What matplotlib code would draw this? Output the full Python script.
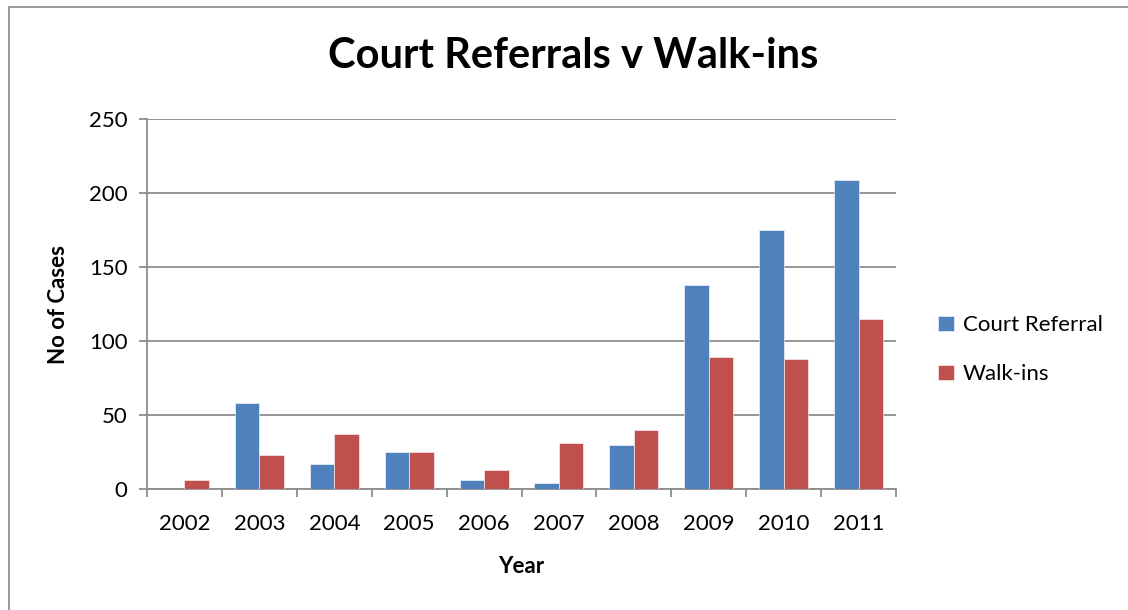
import numpy as np
import matplotlib.pyplot as plt
from matplotlib.patches import Rectangle

years = ['2002', '2003', '2004', '2005', '2006', '2007', '2008', '2009', '2010', '2011']
court_referral = [0, 58, 17, 25, 6, 4, 30, 138, 175, 209]
walk_ins = [6, 23, 37, 25, 13, 31, 40, 89, 88, 115]

plt.rcParams['font.family'] = ['Lato', 'DejaVu Sans']

fig = plt.figure(figsize=(11.28, 6.1), dpi=100)
fig.patches.append(Rectangle((9 / 1128, -0.01), 1.0, 1 - 7 / 610 + 0.01,
                             transform=fig.transFigure, fill=False,
                             edgecolor='#888888', linewidth=1.2))

ax = fig.add_axes([147 / 1128, 121 / 610, 749 / 1128, 370 / 610])

x = np.arange(len(years))
w = 0.327
ax.bar(x - w / 2, court_referral, w, color='#4f81bd', edgecolor='white', linewidth=0.4,
       label='Court Referral', zorder=3)
ax.bar(x + w / 2, walk_ins, w, color='#c0504d', edgecolor='white', linewidth=0.4,
       label='Walk-ins', zorder=3)

ax.set_xlim(-0.5, len(years) - 0.5)
ax.set_ylim(0, 250)
ax.set_yticks(np.arange(0, 251, 50))
ax.yaxis.grid(True, color='#8c8c8c', linewidth=1.3, zorder=0)

ax.set_xticks(np.arange(-0.5, len(years), 1.0))
ax.set_xticklabels([])
ax.set_xticks(x, minor=True)
ax.set_xticklabels(years, minor=True, fontsize=16)
ax.tick_params(axis='x', which='major', length=6, width=1.3, color='#8c8c8c', direction='out')
ax.tick_params(axis='x', which='minor', length=0, pad=18)
ax.tick_params(axis='y', length=6, width=1.3, color='#8c8c8c', labelsize=16, pad=8)

for s in ['top', 'right']:
    ax.spines[s].set_visible(False)
for s in ['left', 'bottom']:
    ax.spines[s].set_color('#8c8c8c')
    ax.spines[s].set_linewidth(1.3)

ax.set_ylabel('No of Cases', fontsize=16, fontweight='bold', labelpad=14)
ax.set_xlabel('Year', fontsize=16, fontweight='bold', labelpad=16)
fig.text(573 / 1128, 1 - 56 / 610, 'Court Referrals v Walk-ins', ha='center', va='center',
         fontsize=30, fontweight='bold')

ax.legend(loc='center left', bbox_to_anchor=(1.03, 0.376), frameon=False, fontsize=16,
          handlelength=0.7, handleheight=0.7, handletextpad=0.4, labelspacing=1.3)

fig.savefig('out.png', dpi=100)
